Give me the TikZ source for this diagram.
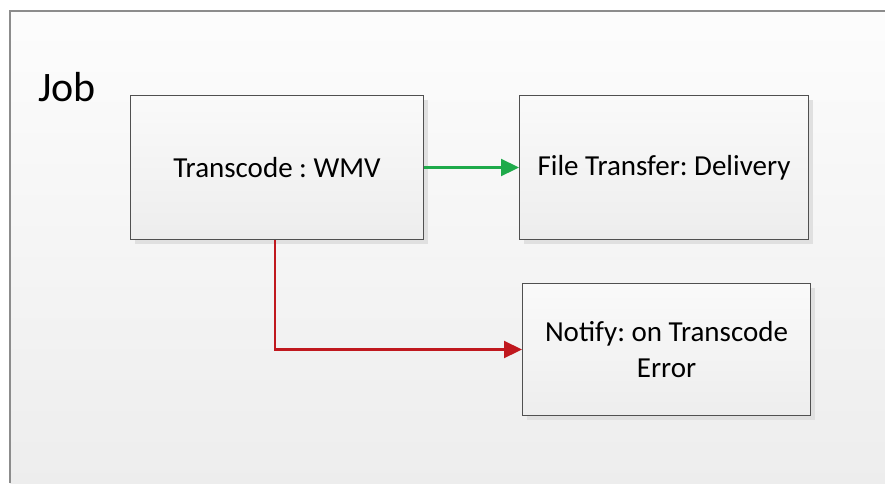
\documentclass[tikz,border=0pt]{standalone}
\usepackage{fontspec}
\setmainfont{Carlito}
\frenchspacing
\usetikzlibrary{arrows.meta,shadows}
\definecolor{boxline}{HTML}{505050}
\definecolor{frameline}{HTML}{8C8C8C}
\definecolor{okgreen}{HTML}{1EAA4A}
\definecolor{errred}{HTML}{C0181E}
\tikzset{
  stepbox/.style={draw=boxline, line width=1pt, top color=white!98!black, bottom color=white!93!black,
    drop shadow={shadow xshift=4pt, shadow yshift=-4pt, fill=black!12, opacity=1},
    align=center, font=\fontsize{29}{36}\selectfont, anchor=north west, inner sep=0pt},
  conn/.style={line width=2.2pt, -{Triangle[length=18pt,width=17pt]}}
}
\begin{document}
\begin{tikzpicture}[x=1pt,y=-1pt]
\useasboundingbox (0,0) rectangle (885,483);
\fill[white] (0,0) rectangle (885,483);
\shade[top color=white!99!black, bottom color=white!93!black] (10,11) rectangle (885,483);
\draw[frameline, line width=1.2pt] (10,483) -- (10,11) -- (885,11);
\node[font=\fontsize{42}{48}\selectfont, anchor=base west, inner sep=0pt] (job) at (38,101) {Job};
\node[stepbox, minimum width=293pt, minimum height=144pt] (tc) at (130,95) {Transcode : WMV};
\node[stepbox, minimum width=289pt, minimum height=144pt] (ft) at (519,95) {File Transfer: Delivery};
\node[stepbox, minimum width=288pt, minimum height=132pt] (nt) at (522,283) {Notify: on Transcode\\Error};
\draw[conn, okgreen] (tc.east) -- (ft.west);
\draw[conn, errred] (tc.south west) ++(145,0) |- (nt.west);
\end{tikzpicture}
\end{document}
